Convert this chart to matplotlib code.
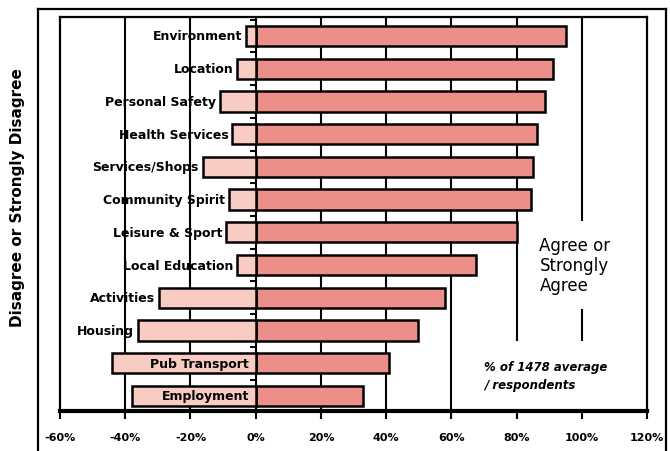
import matplotlib.pyplot as plt
from matplotlib.lines import Line2D

# Datos (% de respuestas)
categories = ['Environment', 'Location', 'Personal Safety', 'Health Services',
              'Services/Shops', 'Community Spirit', 'Leisure & Sport',
              'Local Education', 'Activities', 'Housing', 'Pub Transport',
              'Employment']
agree = [95.2, 91.2, 88.8, 86.3, 85.1, 84.5, 80.0, 67.5, 58.0, 49.7, 41.0, 33.0]
disagree = [-2.9, -5.7, -10.9, -7.2, -16.2, -8.2, -9.1, -5.7, -29.7, -36.2, -44.0, -38.0]
inside_labels = ['Pub Transport', 'Employment']
xticks = [-60, -40, -20, 0, 20, 40, 60, 80, 100, 120]
xticklabels = ['-60%', '-40%', '-20%', '0%', '20%', '40%', '60%', '80%', '100%', '120%']

fig = plt.figure(figsize=(6.7, 4.52), dpi=100)
ax = fig.add_axes([60 / 670, 1 - 412 / 452, 587 / 670, 394 / 452])

y = list(range(len(categories)))

# Líneas verticales de la cuadrícula
for t in xticks[1:-1]:
    ax.axvline(t, color='black', lw=1.5, zorder=0.5)

# Barras
ax.barh(y, agree, height=0.62, color='#eb8f88', edgecolor='black', lw=1.8, zorder=2)
ax.barh(y, disagree, height=0.62, color='#f8ccc2', edgecolor='black', lw=1.8, zorder=2)

# Pequeñas marcas sobre la línea del cero
for k in range(len(categories) + 1):
    ax.plot([-1.6, 0], [k - 0.5, k - 0.5], color='black', lw=1.4, zorder=1,
            solid_capstyle='butt')

# Etiquetas de categoría
for yi, name, d in zip(y, categories, disagree):
    if name in inside_labels:
        ax.text(-2, yi, name, ha='right', va='center', fontsize=9,
                fontweight='bold', zorder=3)
    else:
        ax.text(d - 1.2, yi, name, ha='right', va='center', fontsize=9,
                fontweight='bold', zorder=3)

ax.text(87, 7, 'Agree or\nStrongly\nAgree', ha='left', va='center', fontsize=12,
        linespacing=1.15, zorder=2.2,
        bbox=dict(boxstyle='square,pad=0.9', fc='white', ec='none'))
ax.text(70, 10.37, '% of 1478 average\n/ respondents', ha='left', va='center',
        fontsize=8.5, fontweight='bold', fontstyle='italic', linespacing=1.5,
        zorder=2.2, bbox=dict(boxstyle='square,pad=1.6', fc='white', ec='none'))

ax.set_xlim(-60, 120)
ax.set_ylim(11.46, -0.58)
ax.set_xticks(xticks)
ax.set_xticklabels(xticklabels, fontsize=8, fontweight='bold')
ax.set_yticks([])
ax.tick_params(axis='x', direction='out', length=6, width=1.5, pad=9)

for s in ['left', 'top', 'right']:
    ax.spines[s].set_linewidth(1.6)
ax.spines['bottom'].set_linewidth(3)

# Marco exterior
x0, x1, ytop = 38 / 670, 666 / 670, 1 - 10 / 452
for xs, ys in [([x0, x0], [0, ytop]), ([x0, x1], [ytop, ytop]), ([x1, x1], [ytop, 0])]:
    fig.add_artist(Line2D(xs, ys, color='black', lw=1.6, transform=fig.transFigure))

fig.text(18 / 670, 1 - 198 / 452, 'Disagree or Strongly Disagree', rotation=90,
         ha='center', va='center', fontsize=11, fontweight='bold')

fig.savefig('out.png', dpi=100)
